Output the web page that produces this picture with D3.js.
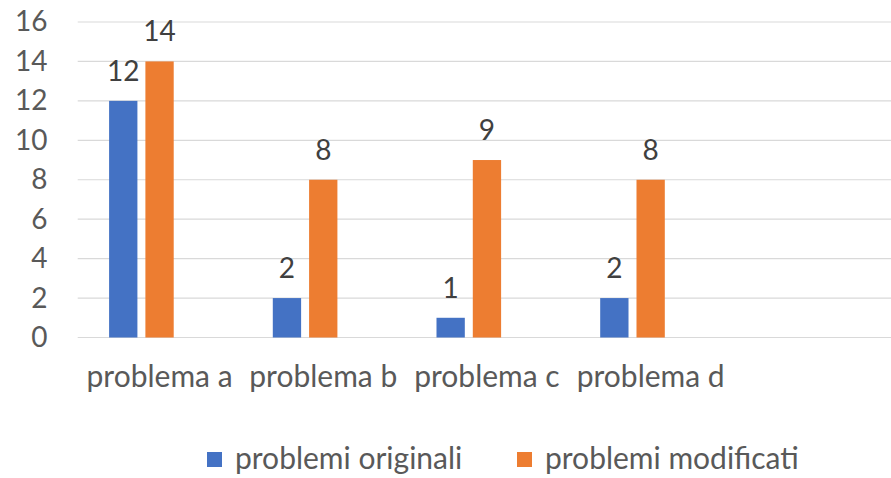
<!DOCTYPE html>
<html>
<head>
<meta charset="utf-8">
<script src="https://cdn.jsdelivr.net/npm/d3@7"></script>
<style>
  html, body { margin: 0; padding: 0; background: #fff; }
  svg { display: block; font-family: Lato, "Open Sans", sans-serif; }
</style>
</head>
<body>
<svg id="chart" width="891" height="478"></svg>
<script>
// Problem categories on the x axis
const categories = ["problema a", "problema b", "problema c", "problema d"];
// Series names and values
const seriesNames = ["problemi originali", "problemi modificati"];
const originali = [12, 2, 1, 2];
const modificati = [14, 8, 9, 8];
// Value axis ticks
const yTicks = [0, 2, 4, 6, 8, 10, 12, 14, 16];

const colors = ["#4472C4", "#ED7D31"];
const W = 891, H = 478;
const svg = d3.select("#chart");

const plotLeft = 77.7, step = 163.7;
const plotTop = 22, plotBottom = 337.5;

const x = d3.scaleBand()
  .domain(categories)
  .range([plotLeft, plotLeft + step * categories.length]);

// Each group holds three slots; the third is left empty
const slot = d3.scaleBand()
  .domain([0, 1, 2])
  .range([0, x.bandwidth()])
  .paddingInner(0.22)
  .paddingOuter(0.865);

const y = d3.scaleLinear().domain([0, 16]).range([plotBottom, plotTop]);

// Gridlines
svg.append("g")
  .selectAll("line")
  .data(yTicks)
  .join("line")
  .attr("x1", plotLeft)
  .attr("x2", W)
  .attr("y1", d => y(d))
  .attr("y2", d => y(d))
  .attr("stroke", "#D9D9D9")
  .attr("stroke-width", 1.2);

// Y axis labels
const yAxis = d3.axisLeft(y).tickValues(yTicks).tickSize(0).tickPadding(0);
svg.append("g")
  .attr("transform", `translate(47.5,0)`)
  .call(yAxis)
  .call(g => g.select(".domain").remove())
  .call(g => g.selectAll("text")
    .attr("fill", "#595959")
    .attr("font-size", 28)
    .attr("font-family", "Lato, sans-serif"));

// X axis labels
const xAxis = d3.axisBottom(x).tickSize(0).tickPadding(0);
svg.append("g")
  .attr("transform", `translate(0,${plotBottom})`)
  .call(xAxis)
  .call(g => g.select(".domain").remove())
  .call(g => g.selectAll("text")
    .attr("fill", "#595959")
    .attr("font-size", 30)
    .attr("font-family", "Lato, sans-serif")
    .attr("dy", 0)
    .attr("y", 49.5));

const seriesData = [originali, modificati];

// Bars and value labels
seriesData.forEach((vals, si) => {
  const g = svg.append("g");
  g.selectAll("rect")
    .data(vals)
    .join("rect")
    .attr("x", (d, i) => x(categories[i]) + slot(si))
    .attr("width", slot.bandwidth())
    .attr("y", d => y(d))
    .attr("height", d => y(0) - y(d))
    .attr("fill", colors[si]);
  g.selectAll("text")
    .data(vals)
    .join("text")
    .attr("x", (d, i) => x(categories[i]) + slot(si) + slot.bandwidth() / 2)
    .attr("y", d => y(d) - 20)
    .attr("text-anchor", "middle")
    .attr("fill", "#404040")
    .attr("font-size", 28)
    .text(d => d);
});

// Legend
const legendItems = [
  { name: seriesNames[0], color: colors[0], x: 207 },
  { name: seriesNames[1], color: colors[1], x: 517 }
];
const lg = svg.append("g");
legendItems.forEach(it => {
  lg.append("rect")
    .attr("x", it.x)
    .attr("y", 452)
    .attr("width", 15)
    .attr("height", 15)
    .attr("fill", it.color);
  lg.append("text")
    .attr("x", it.x + 28)
    .attr("y", 469)
    .attr("fill", "#595959")
    .attr("font-size", 30)
    .text(it.name);
});
</script>
</body>
</html>
